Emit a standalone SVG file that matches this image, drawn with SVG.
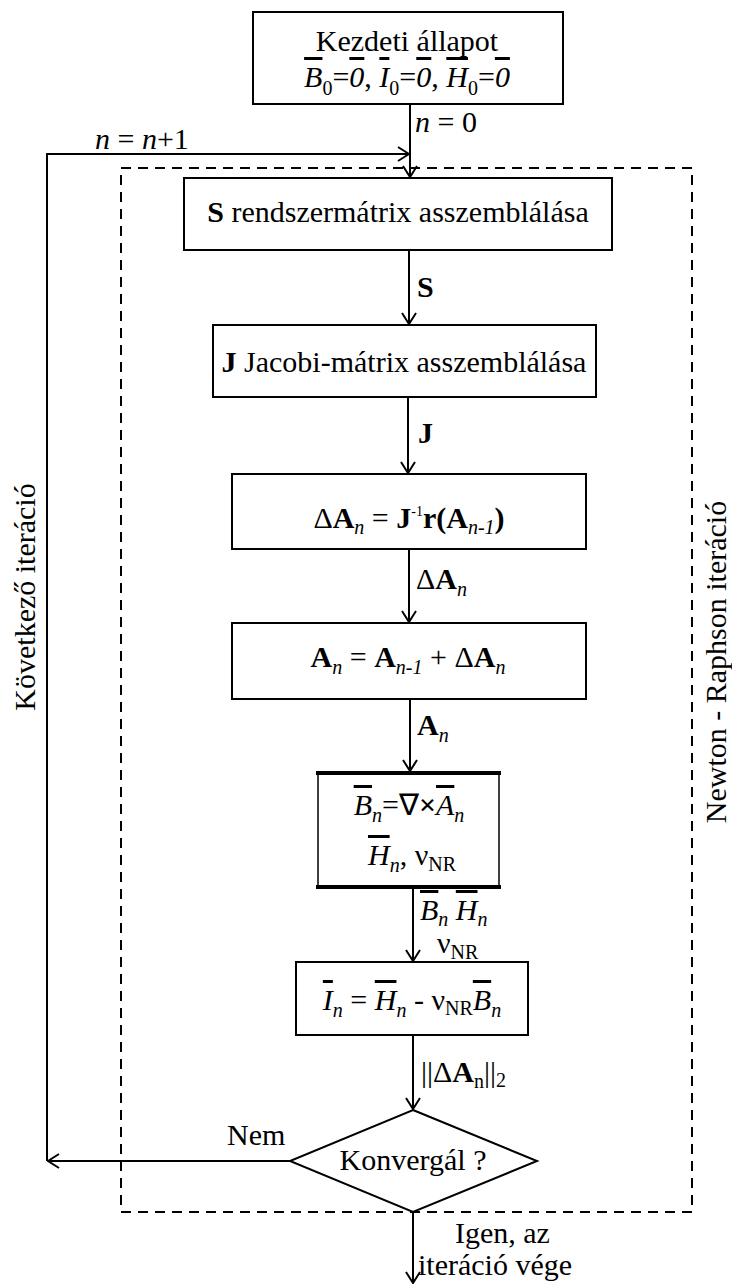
<svg xmlns="http://www.w3.org/2000/svg" width="732" height="1285" viewBox="0 0 732 1285">
<style>
.t{font-family:"Liberation Serif","Times New Roman",serif;font-size:30px;fill:#000}
.b{font-weight:bold}
.i{font-style:italic}
.s{font-size:20px}
.ov{text-decoration:overline}
.box{fill:#fff;stroke:#000;stroke-width:2}
.ln{stroke:#000;stroke-width:2;fill:none}
.dash{fill:none;stroke:#000;stroke-width:2;stroke-dasharray:10 7}
</style>
<defs>
<marker id="ah" viewBox="0 0 13 16" refX="12" refY="8" markerWidth="13" markerHeight="16" markerUnits="userSpaceOnUse" orient="auto">
<path d="M1,1 L12,8 L1,15" fill="none" stroke="#000" stroke-width="2"/>
</marker>
</defs>
<rect width="732" height="1285" fill="#fff"/>

<g id="nr-frame">
<rect class="dash" x="121" y="168" width="571" height="1044"/>
<text class="t" transform="translate(726,662) rotate(-90)" text-anchor="middle">Newton - Raphson iteráció</text>
</g>

<g id="start">
<rect class="box" x="253" y="12" width="310" height="92"/>
<text class="t" x="407" y="51" text-anchor="middle">Kezdeti állapot</text>
<text class="t" x="407" y="87" text-anchor="middle"><tspan class="i ov">B</tspan><tspan class="s" dy="8">0</tspan><tspan dy="-8">=</tspan><tspan class="i ov">0</tspan><tspan>, </tspan><tspan class="i ov">I</tspan><tspan class="s" dy="8">0</tspan><tspan dy="-8">=</tspan><tspan class="i ov">0</tspan><tspan>, </tspan><tspan class="i ov">H</tspan><tspan class="s" dy="8">0</tspan><tspan dy="-8">=</tspan><tspan class="i ov">0</tspan></text>
</g>

<g id="assemble-s">
<rect class="box" x="184" y="178" width="428" height="72"/>
<text class="t" x="398" y="222" text-anchor="middle"><tspan class="b">S</tspan> rendszermátrix asszemblálása</text>
</g>

<g id="assemble-j">
<rect class="box" x="213" y="325" width="383" height="72"/>
<text class="t" x="404" y="372" text-anchor="middle"><tspan class="b">J</tspan> Jacobi-mátrix asszemblálása</text>
</g>

<g id="delta-a">
<rect class="box" x="232" y="474" width="354" height="75"/>
<text class="t" x="409" y="528" text-anchor="middle">Δ<tspan class="b">A</tspan><tspan class="i s" dy="6">n</tspan><tspan dy="-6"> = </tspan><tspan class="b">J</tspan><tspan font-size="14" dy="-12">-1</tspan><tspan class="b" dy="12">r(A</tspan><tspan class="i s" dy="6">n-1</tspan><tspan class="b" dy="-6">)</tspan></text>
</g>

<g id="update-a">
<rect class="box" x="232" y="623" width="354" height="76"/>
<text class="t" x="408" y="667" text-anchor="middle"><tspan class="b">A</tspan><tspan class="i s" dy="7">n</tspan><tspan dy="-7"> = </tspan><tspan class="b">A</tspan><tspan class="i s" dy="7">n-1</tspan><tspan dy="-7"> + Δ</tspan><tspan class="b">A</tspan><tspan class="i s" dy="7">n</tspan></text>
</g>

<g id="field-b">
<rect x="318" y="773" width="181" height="114" fill="#fff" stroke="#000" stroke-width="1.5"/>
<line x1="316" y1="773" x2="501" y2="773" stroke="#000" stroke-width="4"/>
<line x1="316" y1="887" x2="501" y2="887" stroke="#000" stroke-width="4"/>
<text class="t" x="409" y="815" text-anchor="middle"><tspan class="i ov">B</tspan><tspan class="i s" dy="7">n</tspan><tspan dy="-7">=∇</tspan><tspan class="b">×</tspan><tspan class="i ov">A</tspan><tspan class="i s" dy="7">n</tspan></text>
<text class="t" x="412" y="865" text-anchor="middle"><tspan class="i ov">H</tspan><tspan class="i s" dy="7">n</tspan><tspan dy="-7">, ν</tspan><tspan class="s" dy="6">NR</tspan></text>
</g>

<g id="field-i">
<rect class="box" x="296" y="962" width="232" height="73"/>
<text class="t" x="412" y="1010" text-anchor="middle"><tspan class="i ov">I</tspan><tspan class="i s" dy="7">n</tspan><tspan dy="-7"> = </tspan><tspan class="i ov">H</tspan><tspan class="i s" dy="7">n</tspan><tspan dy="-7"> - ν</tspan><tspan class="s" dy="5">NR</tspan><tspan class="i ov" dy="-5">B</tspan><tspan class="i s" dy="7">n</tspan></text>
</g>

<g id="converge">
<polygon class="box" points="413,1110 537,1161 413,1212 290,1161"/>
<text class="t" x="413" y="1170" text-anchor="middle">Konvergál ?</text>
</g>

<g id="connectors">
<path class="ln" d="M410,104 V177" marker-end="url(#ah)"/>
<path class="ln" d="M409,250 V324" marker-end="url(#ah)"/>
<path class="ln" d="M408,397 V473" marker-end="url(#ah)"/>
<path class="ln" d="M409,549 V622" marker-end="url(#ah)"/>
<path class="ln" d="M410,699 V771" marker-end="url(#ah)"/>
<path class="ln" d="M413,889 V961" marker-end="url(#ah)"/>
<path class="ln" d="M413,1035 V1109" marker-end="url(#ah)"/>
<path class="ln" d="M290,1161 H48" marker-end="url(#ah)"/>
<path class="ln" d="M47,1161 V154 H409" marker-end="url(#ah)"/>
<path class="ln" d="M413,1212 V1283" marker-end="url(#ah)"/>
<text class="t" x="415" y="132"><tspan class="i">n</tspan> = 0</text>
<text class="t" x="95" y="149"><tspan class="i">n</tspan> = <tspan class="i">n</tspan>+1</text>
<text class="t b" x="417" y="297">S</text>
<text class="t b" x="418" y="443">J</text>
<text class="t" x="416" y="589">Δ<tspan class="b">A</tspan><tspan class="i s" dy="7">n</tspan></text>
<text class="t" x="417" y="735"><tspan class="b">A</tspan><tspan class="i s" dy="7">n</tspan></text>
<text class="t" x="420" y="920"><tspan class="i ov">B</tspan><tspan class="i s" dy="6">n</tspan><tspan dy="-6"> </tspan><tspan class="i ov">H</tspan><tspan class="i s" dy="6">n</tspan></text>
<text class="t" x="437" y="953">ν<tspan class="s" dy="6">NR</tspan></text>
<text class="t" x="421" y="1082">||Δ<tspan class="b">A</tspan><tspan class="s" dy="6">n</tspan><tspan dy="-6">||</tspan><tspan class="s" dy="5">2</tspan></text>
<text class="t" x="227" y="1145">Nem</text>
<text class="t" x="455" y="1243">Igen, az</text>
<text class="t" x="418" y="1275">iteráció vége</text>
<text class="t" transform="translate(35,597) rotate(-90)" text-anchor="middle">Következő iteráció</text>
</g>
</svg>
